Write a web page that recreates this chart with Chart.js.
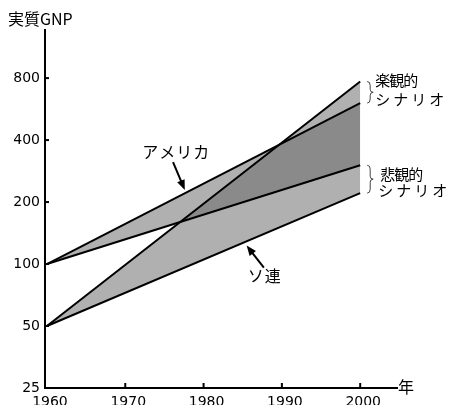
<!DOCTYPE html>
<html>
<head>
<meta charset="utf-8">
<script src="https://cdn.jsdelivr.net/npm/chart.js@4"></script>
<style>
  body { margin: 0; background: #fff; }
  #wrap { width: 450px; height: 405px; }
</style>
</head>
<body>
<div id="wrap"><canvas id="myChart" width="450" height="405"></canvas></div>
<script>
// data
const years = [1960, 2000];
const usaOptimistic = [100, 605];
const usaPessimistic = [100, 302];
const ussrOptimistic = [50, 770];
const ussrPessimistic = [50, 221];
const xTicks = [1960, 1970, 1980, 1990, 2000];
const yTicks = [25, 50, 100, 200, 400, 800];

const JP = '"Noto Sans CJK JP", "Noto Sans", sans-serif';
const bandColor = 'rgba(103,103,103,0.52)';

function toPoints(vals) {
    return years.map((x, i) => ({x: x, y: vals[i]}));
}

function lineSet(vals, fill) {
    return {
        data: toPoints(vals),
        borderColor: '#000',
        borderWidth: 2,
        pointRadius: 0,
        tension: 0,
        fill: fill,
        backgroundColor: bandColor
    };
}

// text drawn char by char with a fixed advance
function spacedText(ctx, str, x, y, step) {
    [...str].forEach((c, i) => ctx.fillText(c, x + i * step, y));
}

function arrow(ctx, x1, y1, x2, y2) {
    const a = Math.atan2(y2 - y1, x2 - x1);
    ctx.beginPath();
    ctx.moveTo(x1, y1);
    ctx.lineTo(x2 - 6 * Math.cos(a), y2 - 6 * Math.sin(a));
    ctx.stroke();
    ctx.beginPath();
    ctx.moveTo(x2, y2);
    ctx.lineTo(x2 - 10 * Math.cos(a) + 4 * Math.sin(a), y2 - 10 * Math.sin(a) - 4 * Math.cos(a));
    ctx.lineTo(x2 - 10 * Math.cos(a) - 4 * Math.sin(a), y2 - 10 * Math.sin(a) + 4 * Math.cos(a));
    ctx.closePath();
    ctx.fill();
}

function brace(ctx, x, top, bottom) {
    const mid = (top + bottom) / 2;
    ctx.beginPath();
    ctx.moveTo(x, top);
    ctx.quadraticCurveTo(x + 3, top, x + 3, top + 4);
    ctx.lineTo(x + 3, mid - 3);
    ctx.quadraticCurveTo(x + 3, mid, x + 6, mid);
    ctx.quadraticCurveTo(x + 3, mid, x + 3, mid + 3);
    ctx.lineTo(x + 3, bottom - 4);
    ctx.quadraticCurveTo(x + 3, bottom, x, bottom);
    ctx.stroke();
}

const extras = {
    id: 'extras',
    afterDraw(chart) {
        const ctx = chart.ctx;
        const xs = chart.scales.x, ys = chart.scales.y;
        const px = v => xs.getPixelForValue(v);
        const py = v => ys.getPixelForValue(v);
        ctx.save();
        ctx.strokeStyle = '#000';
        ctx.fillStyle = '#000';
        ctx.lineWidth = 2;
        // inward tick marks
        yTicks.slice(1).forEach(v => {
            ctx.beginPath();
            ctx.moveTo(xs.left, py(v));
            ctx.lineTo(xs.left + 4, py(v));
            ctx.stroke();
        });
        xTicks.slice(1).forEach(v => {
            ctx.beginPath();
            ctx.moveTo(px(v), ys.bottom);
            ctx.lineTo(px(v), ys.bottom - 5);
            ctx.stroke();
        });

        ctx.textBaseline = 'middle';
        ctx.font = '16px ' + JP;
        ctx.fillText('実質GNP', 8, 19);
        ctx.fillText('年', xs.right + 1, ys.bottom - 1);

        // country labels
        ctx.font = '16px ' + JP;
        spacedText(ctx, 'アメリカ', px(1976.5) - 34, py(350), 17);
        arrow(ctx, px(1976.1), py(313), px(1977.6), py(229));
        spacedText(ctx, 'ソ連', px(1987.8) - 17, py(87.5), 17);
        arrow(ctx, px(1987.7), py(96), px(1985.5), py(123));

        // scenario labels
        const x2000 = px(2000);
        ctx.lineWidth = 1;
        ctx.strokeStyle = '#444';
        brace(ctx, x2000 + 7, py(ussrOptimistic[1]), py(usaOptimistic[1]));
        brace(ctx, x2000 + 7, py(usaPessimistic[1]), py(ussrPessimistic[1]));
        ctx.font = '15px ' + JP;
        spacedText(ctx, '楽観的', x2000 + 15, 80, 14);
        spacedText(ctx, 'シナリオ', x2000 + 15, 99, 18);
        spacedText(ctx, '悲観的', x2000 + 20, 174, 14);
        spacedText(ctx, 'シナリオ', x2000 + 18, 190, 18);
        ctx.restore();
    }
};

const config = {
    type: 'line',
    data: {
        datasets: [
            lineSet(ussrOptimistic, '+1'),
            lineSet(ussrPessimistic, false),
            lineSet(usaOptimistic, '+1'),
            lineSet(usaPessimistic, false)
        ]
    },
    options: {
        responsive: false,
        animation: false,
        layout: {padding: {top: 30, right: 53, left: 0, bottom: 0}},
        plugins: {
            legend: {display: false},
            tooltip: {enabled: false},
            filler: {drawTime: 'beforeDatasetsDraw'}
        },
        scales: {
            x: {
                type: 'linear',
                min: 1959.75,
                max: 2004.7,
                afterBuildTicks: s => { s.ticks = xTicks.map(v => ({value: v})); },
                afterFit: s => { s.height = 17; },
                grid: {drawOnChartArea: false, drawTicks: true, tickLength: 4, tickColor: 'rgba(0,0,0,0)'},
                border: {color: '#000', width: 2},
                ticks: {
                    color: '#000',
                    padding: 2,
                    labelOffset: 3,
                    maxRotation: 0,
                    autoSkip: false,
                    font: {family: 'DejaVu Sans', size: 14},
                    callback: v => String(v)
                }
            },
            y: {
                type: 'logarithmic',
                min: 25,
                max: 1370,
                afterBuildTicks: s => { s.ticks = yTicks.map(v => ({value: v})); },
                afterFit: s => { s.width = 45; },
                grid: {drawOnChartArea: false, drawTicks: false},
                border: {color: '#000', width: 2},
                ticks: {
                    color: '#000',
                    padding: 5,
                    autoSkip: false,
                    font: {family: 'DejaVu Sans', size: 14},
                    callback: v => String(v)
                }
            }
        }
    },
    plugins: [extras]
};

new Chart(document.getElementById('myChart'), config);
</script>
</body>
</html>
